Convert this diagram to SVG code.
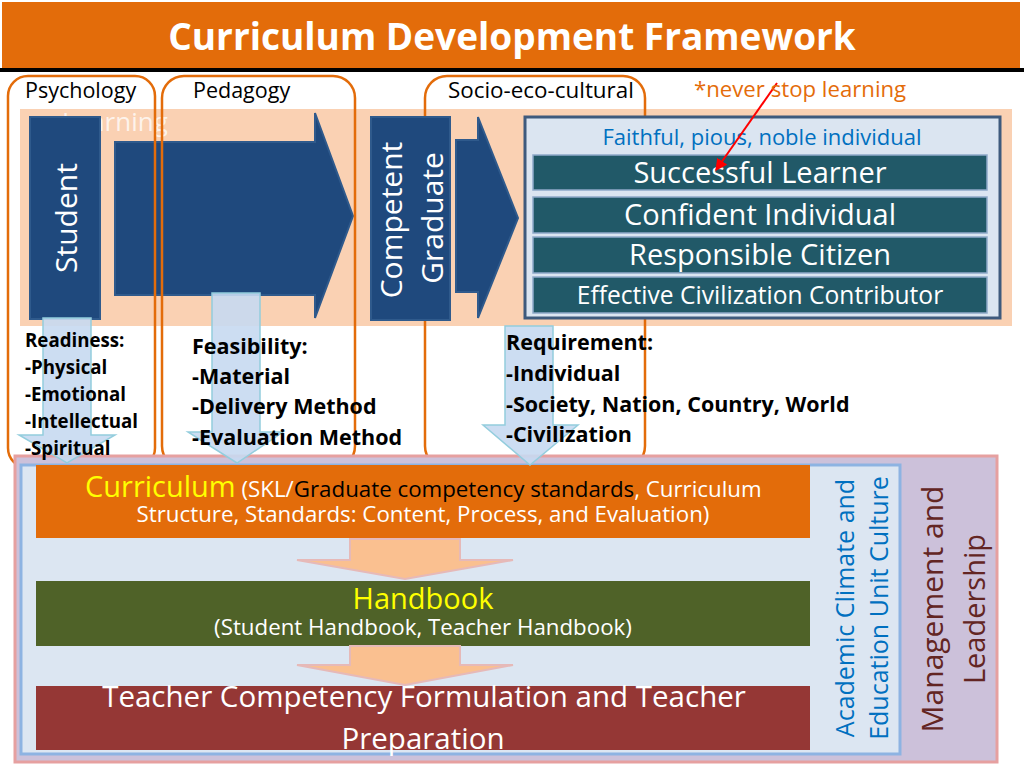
<svg xmlns="http://www.w3.org/2000/svg" width="1024" height="768" viewBox="0 0 1024 768">
<defs>
<style>
text{font-family:"Open Sans","Noto Sans",sans-serif}
.hdr{font-size:21.5px;fill:#000}
.lbl{font-size:21.5px;font-weight:bold;fill:#000}
.lbl19{font-size:18.7px;font-weight:bold;fill:#000}
.wt{fill:#fff}
.dark{fill:#1F497D;stroke:#2F5A8C;stroke-width:2}
.frame{fill:none;stroke:#E36C0A;stroke-width:2.5}
.row{fill:#215968;stroke:#8FA9C9;stroke-width:1.5}
.rowt{fill:#fff;font-size:29px;text-anchor:middle}
.rows{fill:#fff;font-size:24.6px;text-anchor:middle}
.lb{fill:#C6D9F1;fill-opacity:0.9;stroke:#93CDDD;stroke-width:1.5}
.pa{fill:#FAC090;stroke:#E6B9B8;stroke-width:2}
.mid{text-anchor:middle}
.sub{font-size:22.3px}
</style>
<marker id="redhead" viewBox="0 0 10 10" refX="9" refY="5" markerWidth="6" markerHeight="6" orient="auto">
<path d="M0,0 L10,5 L0,10 z" fill="#FF0000"/>
</marker>
</defs>
<rect x="0" y="0" width="1024" height="768" fill="#fff"/>
<g id="title">
<rect x="2" y="2" width="1018" height="66" fill="#E36C0A"/>
<rect x="0" y="68" width="1024" height="4" fill="#000"/>
<text x="512" y="50" class="mid" font-size="37" font-weight="bold" fill="#fff">Curriculum Development Framework</text>
</g>
<g id="band">
<rect x="20" y="109" width="992" height="217" fill="#FAD1B3"/>
<text x="62" y="131" font-size="26" fill="#fff" fill-opacity="0.75">Learning</text>
</g>
<g id="student">
<rect class="dark" x="30" y="117" width="70" height="202"/>
<text transform="translate(77,218) rotate(-90)" class="mid wt" font-size="30">Student</text>
</g>
<g id="learning-arrow">
<polygon class="dark" points="115,142 315,142 315,113 353,216 315,318 315,295 115,295"/>
</g>
<g id="frames">
<rect class="frame" x="8" y="76" width="147" height="392" rx="20"/>
<rect class="frame" x="162" y="76" width="193" height="392" rx="22"/>
<rect class="frame" x="425" y="76" width="220" height="392" rx="22"/>
<text x="25" y="98" class="hdr">Psychology</text>
<text x="193" y="98" class="hdr">Pedagogy</text>
<text x="448" y="98" class="hdr" style="font-size:22.4px">Socio-eco-cultural</text>
</g>
<g id="graduate">
<rect class="dark" x="371" y="117" width="79" height="203"/>
<text transform="translate(402,220) rotate(-90)" class="mid wt" font-size="30">Competent</text>
<text transform="translate(443,218) rotate(-90)" class="mid wt" font-size="30">Graduate</text>
</g>
<g id="graduate-arrow">
<polygon class="dark" points="456,140 478,140 478,117 518,218 478,318 478,292 456,292"/>
</g>
<g id="outcomes">
<rect x="525" y="117" width="475" height="201" fill="#DBE5F1" stroke="#3E5A7D" stroke-width="3"/>
<text x="762" y="145" class="mid" font-size="22" fill="#0070C0">Faithful, pious, noble individual</text>
<rect class="row" x="533" y="155" width="454" height="35"/>
<text x="760" y="183" class="rowt">Successful Learner</text>
<rect class="row" x="533" y="197" width="454" height="36"/>
<text x="760" y="225" class="rowt">Confident Individual</text>
<rect class="row" x="533" y="237" width="454" height="36"/>
<text x="760" y="265" class="rowt">Responsible Citizen</text>
<rect class="row" x="533" y="277" width="454" height="36"/>
<text x="760" y="304" class="rows">Effective Civilization Contributor</text>
</g>
<g id="management">
<rect x="15" y="456" width="982" height="306" fill="#CCC1DA" stroke="#E6A0A0" stroke-width="3"/>
<text transform="translate(943,609) rotate(-90)" class="mid" font-size="30" fill="#632523">Management and</text>
<text transform="translate(985,609) rotate(-90)" class="mid" font-size="29" fill="#632523">Leadership</text>
</g>
<g id="climate">
<rect x="21" y="465" width="879" height="289" fill="#DCE6F2" stroke="#8DB3E2" stroke-width="3"/>
<text transform="translate(854,608) rotate(-90)" class="mid" font-size="25" fill="#0070C0">Academic Climate and</text>
<text transform="translate(888,608) rotate(-90)" class="mid" font-size="25" fill="#0070C0">Education Unit Culture</text>
</g>
<g id="curriculum">
<rect x="36" y="465" width="774" height="73" fill="#E36C0A"/>
<text x="85" y="497"><tspan font-size="29" fill="#FFFF00">Curriculum</tspan><tspan class="sub" fill="#fff"> (SKL/</tspan><tspan class="sub" fill="#000">Graduate competency standards</tspan><tspan class="sub" fill="#fff">, Curriculum</tspan></text>
<text x="423" y="522" class="mid wt sub">Structure, Standards: Content, Process, and Evaluation)</text>
</g>
<g id="handbook">
<rect x="36" y="581" width="774" height="65" fill="#4F6228"/>
<text x="423" y="609" class="mid" font-size="29" fill="#FFFF00">Handbook</text>
<text x="423" y="635" class="mid wt sub">(Student Handbook, Teacher Handbook)</text>
</g>
<g id="teacher">
<rect x="36" y="686" width="774" height="64" fill="#953735"/>
<text x="424" y="707" class="mid wt" font-size="29.5">Teacher Competency Formulation and Teacher</text>
<text x="423" y="749" class="mid wt" font-size="29.5">Preparation</text>
</g>
<g id="connectors">
<polygon class="pa" points="350,539 460,539 460,560 513,560 405,579 297,560 350,560"/>
<polygon class="pa" points="350,646 460,646 460,665 513,665 405,685 297,665 350,665"/>
<polygon class="lb" points="43,318 91,318 91,435 115,435 67,463 19,435 43,435"/>
<polygon class="lb" points="212,293 260,293 260,432 283,432 237,463 188,432 212,432"/>
<polygon class="lb" points="505,326 553,326 553,425 578,425 530,465 483,425 505,425"/>
<line x1="777" y1="83" x2="716" y2="170" stroke="#FF0000" stroke-width="2" marker-end="url(#redhead)"/>
</g>
<g id="labels">
<text class="lbl19" x="25" y="347">Readiness:</text>
<text class="lbl19" x="25" y="374">-Physical</text>
<text class="lbl19" x="25" y="401">-Emotional</text>
<text class="lbl19" x="25" y="428">-Intellectual</text>
<text class="lbl19" x="25" y="455">-Spiritual</text>
<text class="lbl" x="192" y="354">Feasibility:</text>
<text class="lbl" x="192" y="384">-Material</text>
<text class="lbl" x="192" y="414">-Delivery Method</text>
<text class="lbl" x="192" y="445">-Evaluation Method</text>
<text class="lbl" x="506" y="350">Requirement:</text>
<text class="lbl" x="506" y="381">-Individual</text>
<text class="lbl" x="506" y="412">-Society, Nation, Country, World</text>
<text class="lbl" x="506" y="442">-Civilization</text>
</g>
<g id="note">
<text x="694" y="97" font-size="22.2" fill="#E46C0A">*never stop learning</text>
</g>
</svg>
